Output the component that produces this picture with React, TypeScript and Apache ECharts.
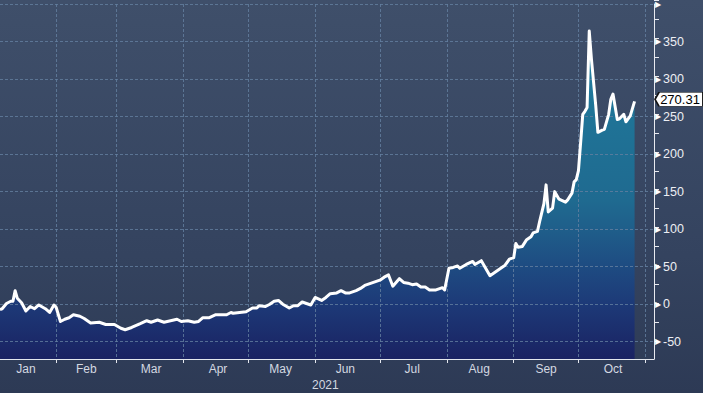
import React, { useEffect, useRef } from 'react';
import * as echarts from 'echarts';

// ---- Data ----
const axisStart = '2021-01-06';
const axisEnd = '2021-11-05';

const pointDates = [
  '2021-01-06', '2021-01-07', '2021-01-09', '2021-01-11', '2021-01-12', '2021-01-13', '2021-01-14', '2021-01-16',
  '2021-01-18', '2021-01-20', '2021-01-22', '2021-01-24', '2021-01-27', '2021-01-29', '2021-01-31',
  '2021-02-01', '2021-02-03', '2021-02-05', '2021-02-07', '2021-02-09', '2021-02-12', '2021-02-14', '2021-02-17',
  '2021-02-21', '2021-02-24', '2021-02-28',
  '2021-03-03', '2021-03-05', '2021-03-08', '2021-03-12', '2021-03-15', '2021-03-17', '2021-03-20', '2021-03-23',
  '2021-03-29', '2021-03-31',
  '2021-04-03', '2021-04-06', '2021-04-08', '2021-04-10', '2021-04-13', '2021-04-16', '2021-04-21', '2021-04-23',
  '2021-04-24', '2021-04-27', '2021-04-30',
  '2021-05-03', '2021-05-05', '2021-05-06', '2021-05-09', '2021-05-11', '2021-05-13', '2021-05-15', '2021-05-17',
  '2021-05-20', '2021-05-22', '2021-05-24', '2021-05-26', '2021-05-28', '2021-05-30',
  '2021-06-01', '2021-06-04', '2021-06-06', '2021-06-08', '2021-06-11', '2021-06-13', '2021-06-15', '2021-06-17',
  '2021-06-20', '2021-06-22', '2021-06-24', '2021-06-27', '2021-06-29',
  '2021-07-01', '2021-07-03', '2021-07-05', '2021-07-07', '2021-07-10', '2021-07-12', '2021-07-14', '2021-07-16',
  '2021-07-18', '2021-07-20', '2021-07-22', '2021-07-24', '2021-07-27', '2021-07-30', '2021-07-31',
  '2021-08-02', '2021-08-04', '2021-08-06', '2021-08-07', '2021-08-10', '2021-08-13', '2021-08-14', '2021-08-17',
  '2021-08-19', '2021-08-21', '2021-08-23', '2021-08-26', '2021-08-28', '2021-08-30',
  '2021-09-01', '2021-09-02', '2021-09-03', '2021-09-05', '2021-09-07', '2021-09-09', '2021-09-10', '2021-09-12',
  '2021-09-13', '2021-09-15', '2021-09-16', '2021-09-17', '2021-09-19', '2021-09-20', '2021-09-22', '2021-09-25',
  '2021-09-26', '2021-09-28', '2021-09-29', '2021-09-30',
  '2021-10-01', '2021-10-02', '2021-10-03', '2021-10-04', '2021-10-05', '2021-10-06', '2021-10-07', '2021-10-08',
  '2021-10-09', '2021-10-10', '2021-10-12', '2021-10-13', '2021-10-15', '2021-10-16', '2021-10-17', '2021-10-19',
  '2021-10-20', '2021-10-22', '2021-10-23', '2021-10-25', '2021-10-27',
];

const pointValues = [
  -7, -6, 1, 4, 4, 18, 8, 2,
  -9, -3, -6, -1, -6, -11, -1,
  -4, -23, -20, -18, -14, -16, -19, -25,
  -24, -27, -27,
  -32, -34, -31, -26, -22, -24, -21, -24,
  -20, -23,
  -22, -24, -23, -18, -18, -14, -14, -11,
  -12, -11, -10,
  -5, -5, -2, -3, 0, 4, 5, 0,
  -5, -2, -2, 3, 1, -1,
  9, 5, 9, 14, 15, 18, 15, 15,
  18, 21, 25, 28, 30,
  32, 36, 39, 24, 34, 29, 28, 26,
  27, 23, 23, 19, 19, 22, 19,
  48, 49, 51, 48, 53, 57, 53, 58,
  48, 38, 42, 48, 52, 60,
  62, 81, 76, 77, 86, 90, 95, 97,
  110, 134, 159, 123, 128, 150, 140, 136,
  139, 148, 163, 166,
  178, 215, 253, 257, 262, 364, 327, 296,
  265, 229, 232, 233, 253, 273, 280, 246,
  247, 253, 243, 251, 270.31,
];

const lastValue = 270.31;

const monthStarts = [
  '2021-02-01', '2021-03-01', '2021-04-01', '2021-05-01', '2021-06-01',
  '2021-07-01', '2021-08-01', '2021-09-01', '2021-10-01', '2021-11-01',
];
const monthLabelDates = [
  '2021-01-18', '2021-02-15', '2021-03-17', '2021-04-17', '2021-05-16',
  '2021-06-15', '2021-07-16', '2021-08-16', '2021-09-16', '2021-10-17',
];
const monthLabels = ['Jan', 'Feb', 'Mar', 'Apr', 'May', 'Jun', 'Jul', 'Aug', 'Sep', 'Oct'];
const yearLabel = '2021';

function buildDays(start: string, end: string): string[] {
  const out: string[] = [];
  const s = Date.parse(start + 'T00:00:00Z');
  const e = Date.parse(end + 'T00:00:00Z');
  for (let t = s; t <= e; t += 86400000) out.push(new Date(t).toISOString().slice(0, 10));
  return out;
}

const FONT = "'Liberation Sans', Arial, sans-serif";

export default function App() {
  const ref = useRef<HTMLDivElement>(null);

  useEffect(() => {
    if (!ref.current) return;
    const chart = echarts.init(ref.current, undefined, { renderer: 'svg' });
    const days = buildDays(axisStart, axisEnd);
    const seriesData = pointDates.map((d, i) => [d, pointValues[i]]);
    const startSet = new Set(monthStarts);
    const labelSet = new Set(monthLabelDates);

    const dashed = { color: 'rgba(100,128,160,0.8)', width: 1, type: [3, 2] as any };

    const areaGradient = new echarts.graphic.LinearGradient(0, 0, 0, 359, [
      { offset: 0, color: '#2a90b0' },
      { offset: 0.28, color: '#1f7598' },
      { offset: 0.56, color: '#1f6a90' },
      { offset: 0.64, color: '#1f5e8a' },
      { offset: 0.74, color: '#1e4c82' },
      { offset: 0.845, color: '#1d3a78' },
      { offset: 1, color: '#1a2262' },
    ], true);

    chart.setOption({
      animation: false,
      backgroundColor: 'transparent',
      textStyle: { fontFamily: FONT },
      grid: [
        { left: 0, right: 49, top: 0, bottom: 34 },
        { left: 0, right: 49, top: 0, height: 341.5 },
      ],
      xAxis: [
        {
          type: 'category',
          gridIndex: 0,
          data: days,
          boundaryGap: false,
          position: 'bottom',
          z: 3,
          axisLine: { show: true, onZero: false, lineStyle: { color: '#e4e7ee', width: 1 } },
          axisTick: {
            show: true,
            length: 4,
            interval: (_i: number, v: string) => startSet.has(v),
            lineStyle: { color: '#e4e7ee' },
          },
          axisLabel: {
            show: true,
            interval: (_i: number, v: string) => labelSet.has(v),
            formatter: (v: string) => {
              const k = monthLabelDates.indexOf(v);
              return k >= 0 ? monthLabels[k] : '';
            },
            color: '#d3d8e1',
            fontSize: 12,
            margin: 4,
            fontFamily: FONT,
          },
          splitLine: {
            show: true,
            interval: (_i: number, v: string) => startSet.has(v),
            lineStyle: dashed,
          },
        },
        { type: 'value', gridIndex: 1, show: false, min: 0, max: 1 },
      ],
      yAxis: [
        {
          type: 'value',
          gridIndex: 0,
          position: 'right',
          min: -73,
          max: 400,
          splitNumber: 9,
          z: 3,
          axisLine: { show: true, onZero: false, lineStyle: { color: '#e8eaf0', width: 1 } },
          axisTick: { show: false },
          axisLabel: {
            show: true,
            margin: 1,
            formatter: (v: number) => {
              if (v % 50 !== 0) return '';
              if (v >= 400) return '{t|▶}';
              return `{t|▶}{v|${v}}`;
            },
            rich: {
              t: { fontSize: 8, color: '#ffffff', padding: [0, 2, 0, 0] },
              v: { fontSize: 12.5, color: '#eceef3', fontFamily: FONT },
            },
          },
          splitLine: { show: true, lineStyle: dashed },
        },
        {
          type: 'value',
          gridIndex: 1,
          position: 'right',
          min: -50,
          max: 400,
          interval: 25,
          axisLine: { show: false, onZero: false },
          axisTick: { show: true, length: 5, lineStyle: { color: '#e8eaf0' } },
          axisLabel: { show: false },
          splitLine: { show: false },
        },
      ],
      series: [
        {
          type: 'line',
          xAxisIndex: 0,
          yAxisIndex: 0,
          data: seriesData,
          symbol: 'none',
          silent: true,
          z: 1,
          lineStyle: { width: 0, opacity: 0 },
          areaStyle: { origin: 'start', color: areaGradient, opacity: 1 },
        },
        {
          type: 'line',
          xAxisIndex: 0,
          yAxisIndex: 0,
          data: seriesData,
          symbol: 'none',
          z: 5,
          lineStyle: { color: '#ffffff', width: 3, join: 'round' },
          markPoint: {
            silent: true,
            symbol: 'path://M0,7L4,0L48,0L48,14L4,14Z',
            symbolSize: [48, 14],
            symbolKeepAspect: false,
            symbolOffset: [25, -2],
            itemStyle: { color: '#ffffff', borderColor: '#111111', borderWidth: 1 },
            label: {
              show: true,
              position: 'inside',
              offset: [1, 0],
              formatter: () => String(lastValue),
              color: '#000000',
              fontSize: 13,
              fontFamily: FONT,
            },
            data: [{ coord: [axisEnd, lastValue], value: lastValue }],
          },
        },
      ],
      graphic: [
        {
          type: 'text',
          x: 312,
          y: 385,
          style: {
            text: yearLabel,
            fill: '#d3d8e1',
            font: `12px ${FONT}`,
            verticalAlign: 'middle',
            textVerticalAlign: 'middle',
          },
        },
      ],
    });

    return () => chart.dispose();
  }, []);

  return (
    <div
      ref={ref}
      style={{
        position: 'fixed',
        left: 0,
        top: 0,
        width: 703,
        height: 393,
        background: 'linear-gradient(180deg, #3f4f6a 0%, #34435f 65%, #2d3a55 100%)',
      }}
    />
  );
}
